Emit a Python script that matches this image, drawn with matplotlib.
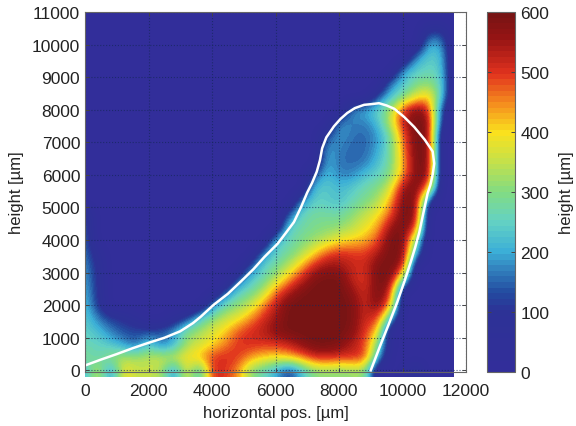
import matplotlib
matplotlib.use("Agg")
import matplotlib.pyplot as plt
from matplotlib.colors import LinearSegmentedColormap
from matplotlib.patches import Rectangle
import numpy as np

plt.rcParams['font.family'] = ['Liberation Sans', 'DejaVu Sans']

# one list per height, bottom row first, rows and columns every 400 um
z = [
 [200,380,150,400,350,350,340,150,400,200,510,500,450,310,260,200,100,210,300,310,300,310,320,0,0,20,110,0,0,0],
 [300,250,320,340,330,350,360,370,400,430,500,510,500,440,410,400,420,450,510,520,500,510,500,220,0,0,0,0,0,0],
 [260,260,230,190,140,250,150,200,330,360,400,450,500,510,500,500,520,570,600,600,590,530,490,300,30,0,0,0,0,0],
 [250,220,170,135,130,130,145,190,300,330,370,410,480,510,530,580,600,600,600,600,600,580,500,420,0,0,0,0,0,0],
 [240,170,125,100,60,0,0,60,110,240,310,350,380,450,510,550,600,600,600,600,600,590,510,510,220,0,0,0,0,0],
 [220,120,0,0,0,0,0,0,0,0,170,280,310,350,450,530,600,600,600,600,600,590,510,590,450,0,0,0,0,0],
 [210,105,0,0,0,0,0,0,0,0,0,130,250,280,340,470,540,590,600,600,600,570,500,600,530,0,0,0,0,0],
 [195,100,0,0,0,0,0,0,0,0,0,0,130,230,270,340,440,520,590,600,600,520,490,600,590,300,0,0,0,0],
 [185,90,0,0,0,0,0,0,0,0,0,0,0,140,250,280,340,430,520,560,550,520,510,590,600,550,0,0,0,0],
 [170,60,0,0,0,0,0,0,0,0,0,0,0,0,170,250,280,330,400,480,510,500,490,540,600,590,200,0,0,0],
 [160,0,0,0,0,0,0,0,0,0,0,0,0,0,0,220,260,290,320,350,390,410,430,480,600,600,300,0,0,0],
 [150,0,0,0,0,0,0,0,0,0,0,0,0,0,0,0,250,270,290,300,310,340,380,430,560,600,520,0,0,0],
 [130,0,0,0,0,0,0,0,0,0,0,0,0,0,0,0,130,260,280,280,270,310,350,390,470,600,590,0,0,0],
 [0,0,0,0,0,0,0,0,0,0,0,0,0,0,0,0,0,170,250,240,220,260,290,330,430,585,600,100,0,0],
 [0,0,0,0,0,0,0,0,0,0,0,0,0,0,0,0,0,0,230,240,215,240,270,300,360,560,600,450,0,0],
 [0,0,0,0,0,0,0,0,0,0,0,0,0,0,0,0,0,0,130,225,170,175,225,250,300,440,590,590,0,0],
 [0,0,0,0,0,0,0,0,0,0,0,0,0,0,0,0,0,0,0,210,160,150,160,220,280,430,590,600,0,0],
 [0,0,0,0,0,0,0,0,0,0,0,0,0,0,0,0,0,0,0,200,170,150,150,195,275,450,600,600,0,0],
 [0,0,0,0,0,0,0,0,0,0,0,0,0,0,0,0,0,0,0,130,190,160,150,180,270,470,600,590,0,0],
 [0,0,0,0,0,0,0,0,0,0,0,0,0,0,0,0,0,0,0,0,190,170,165,215,350,530,600,590,90,0],
 [0,0,0,0,0,0,0,0,0,0,0,0,0,0,0,0,0,0,0,0,0,185,205,250,330,500,590,530,120,0],
 [0,0,0,0,0,0,0,0,0,0,0,0,0,0,0,0,0,0,0,0,0,0,0,130,220,290,370,430,240,0],
 [0,0,0,0,0,0,0,0,0,0,0,0,0,0,0,0,0,0,0,0,0,0,0,0,170,230,290,310,260,0],
 [0,0,0,0,0,0,0,0,0,0,0,0,0,0,0,0,0,0,0,0,0,0,0,0,0,190,240,260,240,0],
 [0,0,0,0,0,0,0,0,0,0,0,0,0,0,0,0,0,0,0,0,0,0,0,0,0,0,180,240,230,0],
 [0,0,0,0,0,0,0,0,0,0,0,0,0,0,0,0,0,0,0,0,0,0,0,0,0,0,0,210,200,0],
 [0,0,0,0,0,0,0,0,0,0,0,0,0,0,0,0,0,0,0,0,0,0,0,0,0,0,0,110,120,0],
 [0,0,0,0,0,0,0,0,0,0,0,0,0,0,0,0,0,0,0,0,0,0,0,0,0,0,0,0,0,0],
]

# white outline
line_x = [0, 500, 1000, 1500, 2000, 2500, 3000, 3400, 3650, 4050, 4500, 4900, 5300, 5650, 6070, 6350, 6580,
          6800, 7000, 7150, 7300, 7400, 7470, 7600, 7840, 8050, 8260, 8500, 8790, 9000, 9260, 9500, 9740,
          10050, 10370, 10700, 10950, 11000, 10950, 10880, 10790, 10650, 10530, 10400, 10260, 10050, 9840,
          9580, 9310, 9000]
line_y = [150, 330, 500, 680, 845, 1000, 1200, 1450, 1650, 2010, 2350, 2720, 3100, 3480, 3890, 4250, 4550,
          5000, 5460, 5750, 6100, 6450, 6820, 7150, 7490, 7720, 7900, 8050, 8150, 8170, 8200, 8130, 8030,
          7780, 7470, 7080, 6720, 6350, 6000, 5700, 5430, 4800, 4240, 3780, 3330, 2700, 2110,
          1450, 790, 0]

x_ticks = [0, 2000, 4000, 6000, 8000, 10000, 12000]
y_ticks = [0, 1000, 2000, 3000, 4000, 5000, 6000, 7000, 8000, 9000, 10000, 11000]
cbar_ticks = [0, 100, 200, 300, 400, 500, 600]

colors = [(0.0, '#322e9a'), (0.167, '#2d3296'), (0.217, '#234ba0'), (0.283, '#3282be'), (0.333, '#3cafd7'),
          (0.417, '#64d2c3'), (0.5, '#82dc82'), (0.583, '#c3e14b'), (0.667, '#fae11e'), (0.75, '#f58c1e'),
          (0.833, '#e1321e'), (0.933, '#961414'), (1.0, '#781414')]
cmap = LinearSegmentedColormap.from_list('map', colors, N=64)

fig = plt.figure(figsize=(5.76, 4.27), dpi=100)
ax = fig.add_axes([85/576, 1-373/427, 381/576, 360/427])
# cells are centred on the 400 um grid, the map stops at 11600
im = ax.imshow(np.array(z), origin='lower', extent=[-200, 11800, -200, 11000], aspect='auto',
               cmap=cmap, vmin=0, vmax=600, interpolation='bicubic')
im.set_clip_path(Rectangle((0, -200), 11600, 11200, transform=ax.transData))
ax.plot(line_x, line_y, color='white', lw=1.8)
ax.set_xlim(0, 12000)
ax.set_ylim(-50, 11000)
ax.set_xticks(x_ticks)
ax.set_yticks(y_ticks)
ax.grid(True, color='#14285a', ls=':', lw=0.8, alpha=0.7)
ax.tick_params(direction='in', top=True, right=True, length=3, width=0.7, color='#444444',
               labelsize=12.5, labelcolor='#222222')
ax.tick_params(axis='x', pad=8)
ax.set_xlabel('horizontal pos. [µm]', fontsize=12, color='#222222', labelpad=5)
ax.set_ylabel('height [µm]', fontsize=12, color='#222222', labelpad=6)
for s in ax.spines.values():
    s.set_color('#666666')

cax = fig.add_axes([487/576, 1-373/427, 28/576, 360/427])
cb = fig.colorbar(im, cax=cax, ticks=cbar_ticks)
cb.ax.tick_params(direction='in', left=True, right=True, length=3, width=0.7, color='#444444',
                  labelsize=12.5, labelcolor='#222222', pad=4)
cb.set_label('height [µm]', fontsize=12, color='#222222', labelpad=7)
cb.outline.set_edgecolor('#666666')

fig.savefig('out.png', dpi=100)
